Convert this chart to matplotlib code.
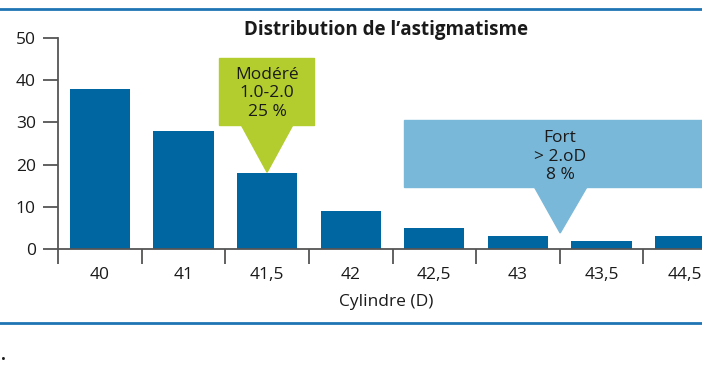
import matplotlib.pyplot as plt
from matplotlib.patches import Polygon, Rectangle
from matplotlib.lines import Line2D

plt.rcParams['font.family'] = ['Open Sans', 'DejaVu Sans']

# data
categories = ['40', '41', '41,5', '42', '42,5', '43', '43,5', '44,5']
counts = [38, 28, 18, 9, 5, 3, 2, 3]
yticks = [0, 10, 20, 30, 40, 50]

bar_color = '#0066a1'
axis_color = '#555555'
text_color = '#1a1a1a'
green = '#b3cc2e'
light_blue = '#7ab8d9'
rule_blue = '#1f74b3'

W, H = 702, 370
fig = plt.figure(figsize=(W / 100, H / 100), dpi=100)
ax = fig.add_axes([58 / W, 121 / H, 669 / W, 211 / H])

x = list(range(len(categories)))
ax.bar(x, counts, width=0.72, color=bar_color, zorder=2)

ax.set_xlim(-0.5, len(categories) - 0.5)
ax.set_ylim(0, 50)

# y axis
ax.set_yticks(yticks)
ax.set_yticklabels([str(v) for v in yticks], fontsize=12.5, color=text_color)
ax.tick_params(axis='y', direction='out', length=11, width=1.3, color=axis_color, pad=5)

# x axis: ticks at boundaries, labels at centres
ax.set_xticks([i - 0.5 for i in range(len(categories) + 1)])
ax.set_xticklabels([])
ax.set_xticks(x, minor=True)
ax.set_xticklabels(categories, minor=True, fontsize=12.5, color=text_color)
ax.tick_params(axis='x', which='major', direction='out', length=11, width=1.3, color=axis_color)
ax.tick_params(axis='x', which='minor', length=0, pad=13)

for s in ['top', 'right']:
    ax.spines[s].set_visible(False)
for s in ['left', 'bottom']:
    ax.spines[s].set_color(axis_color)
    ax.spines[s].set_linewidth(1.3)

# callout "Modéré"
ax.add_patch(Rectangle((1.426, 29.4), 2.562 - 1.426, 45.3 - 29.4, color=green, zorder=3,
                       clip_on=False))
ax.add_patch(Polygon([(1.689, 29.5), (2.311, 29.5), (2.0, 18.2)], closed=True, color=green,
                     zorder=3, clip_on=False))
ax.text(2.0, 36.9, 'Modéré\n1.0-2.0\n25 %', ha='center', va='center', fontsize=12.5,
        linespacing=1.22, color=text_color, zorder=4)

# callout "Fort"
ax.add_patch(Rectangle((3.639, 14.7), 5.0, 30.6 - 14.7, color=light_blue, zorder=3,
                       clip_on=False))
ax.add_patch(Polygon([(5.194, 14.8), (5.828, 14.8), (5.505, 3.8)], closed=True,
                     color=light_blue, zorder=3, clip_on=False))
ax.text(5.505, 21.9, 'Fort\n> 2.oD\n8 %', ha='center', va='center', fontsize=12.5,
        linespacing=1.22, color=text_color, zorder=4)

# titles
fig.text(386 / W, 1 - 30 / H, "Distribution de l’astigmatisme", ha='center', va='center',
         fontsize=13.5, fontweight='bold', color=text_color)
fig.text(386 / W, 1 - 302 / H, 'Cylindre (D)', ha='center', va='center', fontsize=12.5,
         color=text_color)

# horizontal rules
fig.add_artist(Line2D([0, 1], [1 - 9 / H, 1 - 9 / H], color=rule_blue, lw=2))
fig.add_artist(Line2D([0, 1], [1 - 323 / H, 1 - 323 / H], color=rule_blue, lw=2))
fig.text(3 / W, 1 - 355 / H, '.', ha='center', va='center', fontsize=12, color=text_color,
         fontweight='bold')

fig.savefig('out.png', dpi=100)
